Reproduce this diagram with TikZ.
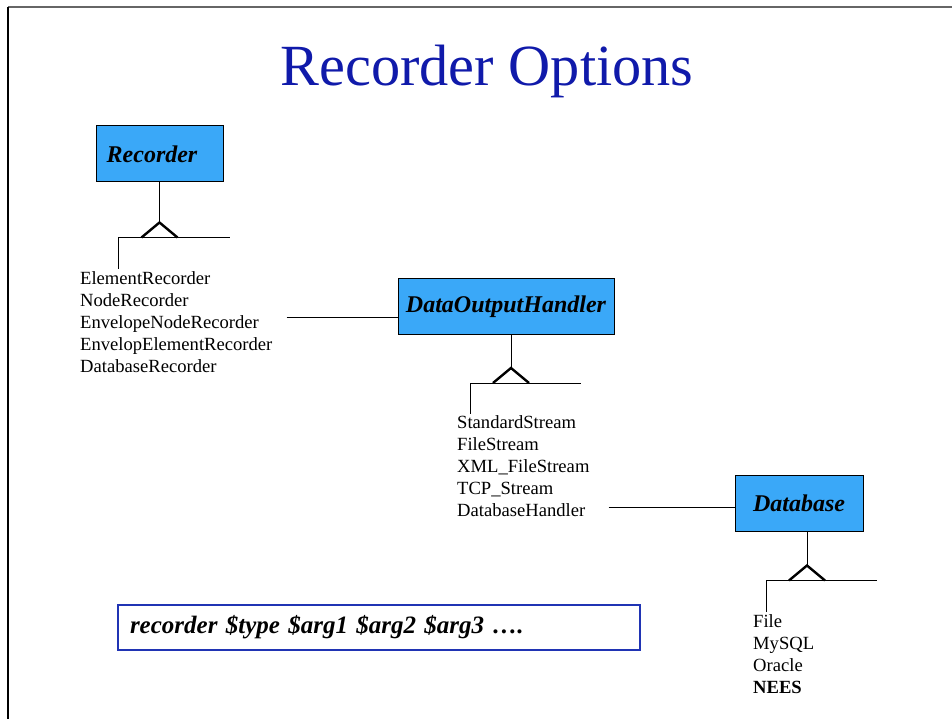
\documentclass[tikz,border=0pt]{standalone}
\usepackage{fontspec}
\setmainfont{Liberation Serif}
\usetikzlibrary{positioning,calc}

\definecolor{titleblue}{RGB}{16,26,170}
\definecolor{boxblue}{RGB}{58,168,248}
\definecolor{cmdblue}{RGB}{32,52,180}

\begin{document}
\begin{tikzpicture}[x=1pt, y=-1pt,
    classbox/.style={draw=black, line width=1pt, fill=boxblue, minimum height=56pt, inner sep=0pt,
        font=\fontsize{24}{28}\selectfont\bfseries\itshape},
    itemlist/.style={align=left, inner sep=0pt, anchor=north west, font=\fontsize{18.6}{22}\selectfont},
    link/.style={black, line width=1pt},
    kindmark/.style={black, line width=2.4pt}]
    % Page size and frame
    \useasboundingbox (0,0) rectangle (952,719);
    \draw[black!60, line width=1.5pt] (8,7) -- (952,7);
    \draw[black, line width=1.2pt] (8,7) -- (8,719);

    % Title
    \node[font=\fontsize{58.3}{64}\selectfont, text=titleblue] (title) at (487,71) {Recorder Options};

    % Class boxes
    \node[classbox, minimum width=127pt] (rec) at (159.5,154) {Recorder\hspace*{15pt}};
    \node[classbox, minimum width=216pt] (doh) at (506,306.5) {DataOutputHandler};
    \node[classbox, minimum width=128pt] (db) at (799,503) {Database};

    % Subclass lists
    \node[itemlist] (recList) at (80,271) {ElementRecorder\\NodeRecorder\\EnvelopeNodeRecorder\\EnvelopElementRecorder\\DatabaseRecorder};
    \node[itemlist] (dohList) at (457,415) {StandardStream\\FileStream\\XML\_FileStream\\TCP\_Stream\\DatabaseHandler};
    \node[itemlist] (dbList) at (753,614) {File\\MySQL\\Oracle\\\textbf{NEES}};

    % Inheritance marks below each box
    \foreach \cls/\off/\drop in {rec/0/40, doh/5/33, db/8/34} {
        \coordinate (\cls Top) at ($(\cls.south)+(\off,0)$);
        \coordinate (\cls Apex) at ($(\cls Top)+(0,\drop)$);
        \coordinate (\cls Left) at ($(\cls Apex)+(-41,15)$);
        \draw[link] (\cls Top) -- (\cls Apex);
        \draw[kindmark] ($(\cls Apex)+(-18,15)$) -- (\cls Apex) -- ($(\cls Apex)+(18,15)$);
        \draw[link] (\cls Left) -- ($(\cls Apex)+(70,15)$);
        \draw[link] (\cls Left) -- ($(\cls Left)+(0,31)$);
    }

    % Links from a list to the next class
    \coordinate (recOut) at ($(recList.east)+(14,-4)$);
    \coordinate (dohOut) at ($(dohList.south east)+(19,-9)$);
    \draw[link] (recOut) -- (recOut -| doh.west);
    \draw[link] (dohOut) -- (dohOut -| db.west);

    % Command syntax
    \node[draw=cmdblue, line width=1.6pt, fill=white, minimum height=45pt, text width=498pt, inner xsep=12pt,
        align=left, font=\fontsize{25}{28}\selectfont\bfseries\itshape] (cmd) at (379,627.5)
        {recorder \$type \$arg1 \$arg2 \$arg3 ….};
\end{tikzpicture}
\end{document}
